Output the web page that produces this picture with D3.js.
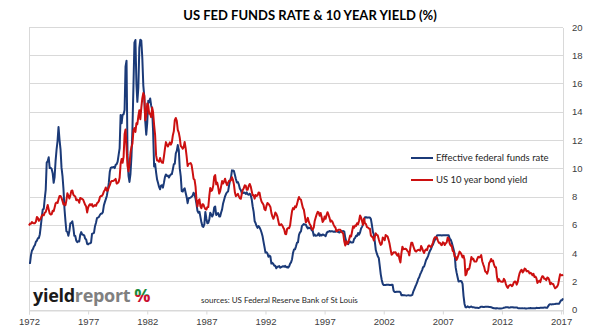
<!DOCTYPE html>
<meta charset="utf-8">
<style>
body { margin: 0; background: #fff; }
svg { display: block; font-family: Lato, "Open Sans", sans-serif; }
.grid line { stroke: #d9d9d9; shape-rendering: crispEdges; }
.axis text { fill: #404040; font-size: 9.5px; }
.series { fill: none; stroke-width: 2; stroke-linejoin: round; }
</style>
<body>
<svg width="602" height="330"></svg>
<script src="https://cdn.jsdelivr.net/npm/d3@7"></script>
<script>

// Monthly averages, Jan 1972 - Mar 2017 (%)
var fedFundsRate = [
  3.29, 3.29, 3.83, 4.17, 4.27, 4.46, 4.55, 4.80, 4.87, 5.04, 5.06, 5.33,
  5.94, 6.58, 7.09, 7.12, 7.84, 8.49, 10.40, 10.50, 10.78, 10.01, 10.03, 9.95,
  9.65, 8.97, 9.35, 10.51, 11.31, 11.93, 12.92, 12.01, 11.34, 10.06, 9.45, 8.53,
  7.13, 6.24, 5.54, 5.49, 5.22, 5.55, 6.10, 6.14, 6.24, 5.82, 5.22, 5.20,
  4.87, 4.77, 4.84, 4.82, 5.29, 5.48, 5.31, 5.29, 5.25, 5.02, 4.95, 4.65,
  4.61, 4.68, 4.69, 4.73, 5.35, 5.39, 5.42, 5.90, 6.14, 6.47, 6.51, 6.56,
  6.70, 6.78, 6.79, 6.89, 7.36, 7.60, 7.81, 8.04, 8.45, 8.96, 9.76, 10.03,
  10.07, 10.06, 10.09, 10.01, 10.24, 10.29, 10.47, 10.94, 11.43, 13.77, 13.18, 13.78,
  13.82, 14.13, 17.19, 17.61, 10.98, 9.47, 9.03, 9.61, 10.87, 12.81, 15.85, 18.90,
  19.08, 15.93, 14.70, 15.72, 18.52, 19.10, 19.04, 17.82, 15.87, 15.08, 13.31, 12.37,
  13.22, 14.78, 14.68, 14.94, 14.45, 14.15, 12.59, 10.12, 10.31, 9.71, 9.20, 8.95,
  8.68, 8.51, 8.77, 8.80, 8.63, 8.98, 9.37, 9.56, 9.45, 9.48, 9.34, 9.47,
  9.56, 9.59, 9.91, 10.29, 10.32, 11.06, 11.23, 11.64, 11.30, 9.99, 9.43, 8.38,
  8.35, 8.50, 8.58, 8.27, 7.97, 7.53, 7.88, 7.90, 7.92, 7.99, 8.05, 8.27,
  8.14, 7.86, 7.48, 6.99, 6.85, 6.92, 6.56, 6.17, 5.89, 5.85, 6.04, 6.91,
  6.43, 6.10, 6.13, 6.37, 6.85, 6.73, 6.58, 6.73, 7.22, 7.29, 6.69, 6.77,
  6.83, 6.58, 6.58, 6.87, 7.09, 7.51, 7.75, 8.01, 8.19, 8.30, 8.35, 8.76,
  9.12, 9.36, 9.85, 9.84, 9.81, 9.53, 9.24, 8.99, 9.02, 8.84, 8.55, 8.45,
  8.23, 8.24, 8.28, 8.26, 8.18, 8.29, 8.15, 8.13, 8.20, 8.11, 7.81, 7.31,
  6.91, 6.25, 6.12, 5.91, 5.78, 5.90, 5.82, 5.66, 5.45, 5.21, 4.81, 4.43,
  4.03, 4.06, 3.98, 3.73, 3.82, 3.76, 3.25, 3.30, 3.22, 3.10, 3.09, 2.92,
  3.02, 3.03, 3.07, 2.96, 3.00, 3.04, 3.06, 3.03, 3.09, 2.99, 3.02, 2.96,
  3.05, 3.25, 3.34, 3.56, 4.01, 4.25, 4.26, 4.47, 4.73, 4.76, 5.29, 5.45,
  5.53, 5.92, 5.98, 6.05, 6.01, 6.00, 5.85, 5.74, 5.80, 5.76, 5.80, 5.60,
  5.56, 5.22, 5.31, 5.22, 5.24, 5.27, 5.40, 5.22, 5.30, 5.24, 5.31, 5.29,
  5.25, 5.19, 5.39, 5.51, 5.50, 5.56, 5.52, 5.54, 5.54, 5.50, 5.52, 5.50,
  5.56, 5.51, 5.49, 5.45, 5.49, 5.56, 5.54, 5.55, 5.51, 5.07, 4.83, 4.68,
  4.63, 4.76, 4.81, 4.74, 4.74, 4.76, 4.99, 5.07, 5.22, 5.20, 5.42, 5.30,
  5.45, 5.73, 5.85, 6.02, 6.27, 6.53, 6.54, 6.50, 6.52, 6.51, 6.51, 6.40,
  5.98, 5.49, 5.31, 4.80, 4.21, 3.97, 3.77, 3.65, 3.07, 2.49, 2.09, 1.82,
  1.73, 1.74, 1.73, 1.75, 1.75, 1.75, 1.73, 1.74, 1.75, 1.75, 1.34, 1.24,
  1.24, 1.26, 1.25, 1.26, 1.26, 1.22, 1.01, 1.03, 1.01, 1.01, 1.00, 0.98,
  1.00, 1.01, 1.00, 1.00, 1.00, 1.03, 1.26, 1.43, 1.61, 1.76, 1.93, 2.16,
  2.28, 2.50, 2.63, 2.79, 3.00, 3.04, 3.26, 3.50, 3.62, 3.78, 4.00, 4.16,
  4.29, 4.49, 4.59, 4.79, 4.94, 4.99, 5.24, 5.25, 5.25, 5.25, 5.25, 5.24,
  5.25, 5.26, 5.26, 5.25, 5.25, 5.25, 5.26, 5.02, 4.94, 4.76, 4.49, 4.24,
  3.94, 2.98, 2.61, 2.28, 1.98, 2.00, 2.01, 2.00, 1.81, 0.97, 0.39, 0.16,
  0.15, 0.22, 0.18, 0.15, 0.18, 0.21, 0.16, 0.16, 0.15, 0.12, 0.12, 0.12,
  0.11, 0.13, 0.16, 0.20, 0.20, 0.18, 0.18, 0.19, 0.19, 0.19, 0.19, 0.18,
  0.17, 0.16, 0.14, 0.10, 0.09, 0.09, 0.07, 0.10, 0.08, 0.07, 0.08, 0.07,
  0.08, 0.10, 0.13, 0.14, 0.16, 0.16, 0.16, 0.13, 0.14, 0.16, 0.16, 0.16,
  0.14, 0.15, 0.14, 0.15, 0.11, 0.09, 0.09, 0.08, 0.08, 0.09, 0.08, 0.09,
  0.07, 0.07, 0.08, 0.09, 0.09, 0.10, 0.09, 0.09, 0.09, 0.09, 0.09, 0.12,
  0.11, 0.11, 0.11, 0.12, 0.12, 0.13, 0.13, 0.14, 0.14, 0.12, 0.12, 0.24,
  0.34, 0.38, 0.36, 0.37, 0.37, 0.38, 0.39, 0.40, 0.40, 0.40, 0.41, 0.54,
  0.65, 0.66, 0.79
];

var tenYearYield = [
  5.95, 6.08, 6.07, 6.19, 6.13, 6.11, 6.11, 6.21, 6.55, 6.48, 6.28, 6.36,
  6.46, 6.64, 6.71, 6.67, 6.85, 6.90, 7.13, 7.40, 7.09, 6.79, 6.73, 6.74,
  6.99, 6.96, 7.21, 7.51, 7.58, 7.54, 7.81, 8.04, 8.04, 7.90, 7.68, 7.43,
  7.50, 7.39, 7.73, 8.23, 8.06, 7.86, 8.06, 8.40, 8.43, 8.14, 8.05, 8.00,
  7.74, 7.79, 7.73, 7.56, 7.90, 7.86, 7.83, 7.77, 7.59, 7.41, 7.29, 6.87,
  7.21, 7.39, 7.46, 7.37, 7.46, 7.28, 7.33, 7.40, 7.34, 7.52, 7.58, 7.69,
  7.96, 8.03, 8.04, 8.15, 8.35, 8.46, 8.64, 8.41, 8.42, 8.64, 8.81, 9.01,
  9.10, 9.10, 9.12, 9.18, 9.25, 8.91, 8.95, 9.03, 9.33, 10.30, 10.65, 10.39,
  10.80, 12.41, 12.75, 11.47, 10.18, 9.78, 10.25, 11.10, 11.51, 11.75, 12.68, 12.84,
  12.57, 13.19, 13.12, 13.68, 14.10, 13.47, 14.28, 14.94, 15.32, 15.15, 13.39, 13.72,
  14.59, 14.43, 13.86, 13.87, 13.62, 14.30, 13.95, 13.06, 12.34, 10.91, 10.55, 10.54,
  10.46, 10.72, 10.51, 10.40, 10.38, 10.85, 11.38, 11.85, 11.65, 11.54, 11.69, 11.83,
  11.67, 11.84, 12.32, 12.63, 13.41, 13.56, 13.36, 12.72, 12.52, 12.16, 11.57, 11.50,
  11.38, 11.51, 11.86, 11.43, 10.85, 10.16, 10.31, 10.33, 10.37, 10.24, 9.78, 9.26,
  9.19, 8.70, 7.78, 7.30, 7.71, 7.80, 7.30, 7.17, 7.45, 7.43, 7.25, 7.11,
  7.08, 7.25, 7.25, 8.02, 8.61, 8.40, 8.45, 8.76, 9.42, 9.52, 8.86, 8.99,
  8.67, 8.21, 8.37, 8.72, 9.09, 8.92, 9.06, 9.26, 8.98, 8.80, 8.96, 9.11,
  9.09, 9.17, 9.36, 9.18, 8.86, 8.28, 8.02, 8.11, 8.19, 8.01, 7.87, 7.84,
  8.21, 8.47, 8.59, 8.79, 8.76, 8.48, 8.47, 8.75, 8.89, 8.72, 8.39, 8.08,
  8.09, 7.85, 8.11, 8.04, 8.07, 8.28, 8.27, 7.90, 7.65, 7.53, 7.42, 7.09,
  7.03, 7.34, 7.54, 7.48, 7.39, 7.26, 6.84, 6.59, 6.42, 6.59, 6.87, 6.77,
  6.60, 6.26, 5.98, 5.97, 6.04, 5.96, 5.81, 5.68, 5.36, 5.33, 5.72, 5.77,
  5.75, 5.97, 6.48, 6.97, 7.18, 7.10, 7.30, 7.24, 7.46, 7.74, 7.96, 7.81,
  7.78, 7.47, 7.20, 7.06, 6.63, 6.17, 6.28, 6.49, 6.20, 6.04, 5.93, 5.71,
  5.65, 5.81, 6.27, 6.51, 6.74, 6.91, 6.87, 6.64, 6.83, 6.53, 6.20, 6.30,
  6.58, 6.42, 6.69, 6.89, 6.71, 6.49, 6.22, 6.30, 6.21, 6.03, 5.88, 5.81,
  5.54, 5.57, 5.65, 5.64, 5.65, 5.50, 5.46, 5.34, 4.81, 4.53, 4.83, 4.65,
  4.72, 5.00, 5.23, 5.18, 5.54, 5.90, 5.79, 5.94, 5.92, 6.11, 6.03, 6.28,
  6.66, 6.52, 6.26, 5.99, 6.44, 6.10, 6.05, 5.83, 5.80, 5.74, 5.72, 5.24,
  5.16, 5.10, 4.89, 5.14, 5.39, 5.28, 5.24, 4.97, 4.73, 4.57, 4.65, 5.09,
  5.04, 4.91, 5.28, 5.21, 5.16, 4.93, 4.65, 4.26, 3.87, 3.94, 4.05, 4.03,
  4.05, 3.90, 3.81, 3.96, 3.57, 3.33, 3.98, 4.45, 4.27, 4.29, 4.30, 4.27,
  4.15, 4.08, 3.83, 4.35, 4.72, 4.73, 4.50, 4.28, 4.13, 4.10, 4.19, 4.23,
  4.22, 4.17, 4.50, 4.34, 4.14, 4.00, 4.18, 4.26, 4.20, 4.46, 4.54, 4.47,
  4.42, 4.57, 4.72, 4.99, 5.11, 5.11, 5.09, 4.88, 4.72, 4.73, 4.60, 4.56,
  4.76, 4.72, 4.56, 4.69, 4.75, 5.10, 5.00, 4.67, 4.52, 4.53, 4.15, 4.10,
  3.74, 3.74, 3.51, 3.68, 3.88, 4.10, 4.01, 3.89, 3.69, 3.81, 3.53, 2.42,
  2.52, 2.87, 2.82, 2.93, 3.29, 3.72, 3.56, 3.59, 3.40, 3.39, 3.40, 3.59,
  3.73, 3.69, 3.73, 3.85, 3.42, 3.20, 3.01, 2.70, 2.65, 2.54, 2.76, 3.29,
  3.39, 3.58, 3.41, 3.46, 3.17, 3.00, 3.00, 2.30, 1.98, 2.15, 2.01, 1.98,
  1.97, 1.97, 2.17, 2.05, 1.80, 1.62, 1.53, 1.68, 1.72, 1.75, 1.65, 1.72,
  1.91, 1.98, 1.96, 1.76, 1.93, 2.30, 2.58, 2.74, 2.81, 2.62, 2.72, 2.90,
  2.86, 2.71, 2.72, 2.71, 2.56, 2.60, 2.54, 2.42, 2.53, 2.30, 2.33, 2.21,
  1.88, 1.98, 2.04, 1.94, 2.20, 2.36, 2.32, 2.17, 2.17, 2.07, 2.26, 2.24,
  2.09, 1.78, 1.89, 1.81, 1.81, 1.64, 1.50, 1.56, 1.63, 1.76, 2.14, 2.49,
  2.43, 2.42, 2.48
];

var tickYears = [1972, 1977, 1982, 1987, 1992, 1997, 2002, 2007, 2012, 2017];
var yTicks = [0, 2, 4, 6, 8, 10, 12, 14, 16, 18, 20];
var seriesNames = ["Effective federal funds rate", "US 10 year bond yield"];
var seriesColors = ["#1b3a78", "#cc1010"];

var svg = d3.select("svg"),
    plot = {left: 29, right: 563, top: 27, bottom: 309.5};

var month = function(i) { return new Date(1972, i, 1); };

var x = d3.scaleTime()
    .domain([month(0), month(fedFundsRate.length - 1)])
    .range([plot.left, plot.right]);

var y = d3.scaleLinear().domain([0, 20]).range([plot.bottom, plot.top]);

// Horizontal gridlines
svg.append("g")
    .attr("class", "grid")
  .selectAll("line")
  .data(yTicks)
  .enter().append("line")
    .attr("x1", plot.left)
    .attr("x2", plot.right)
    .attr("y1", function(d) { return Math.round(y(d)) + 0.5; })
    .attr("y2", function(d) { return Math.round(y(d)) + 0.5; });

// Side borders of the plot area
svg.append("g")
    .attr("class", "grid")
  .selectAll("line")
  .data([plot.left, plot.right])
  .enter().append("line")
    .attr("x1", function(d) { return Math.round(d) + 0.5; })
    .attr("x2", function(d) { return Math.round(d) + 0.5; })
    .attr("y1", Math.round(y(20)) + 0.5)
    .attr("y2", Math.round(y(0)) + 0.5);

// Bottom axis with year labels
var xAxis = svg.append("g")
    .attr("class", "axis")
    .attr("transform", "translate(0," + (Math.round(y(0)) + 0.5) + ")")
    .call(d3.axisBottom(x)
      .tickValues(tickYears.map(function(yr) { return new Date(yr, 0, 1); }))
      .tickFormat(d3.timeFormat("%Y"))
      .tickSize(4)
      .tickPadding(4));
xAxis.select(".domain").attr("stroke", "#d9d9d9");
xAxis.selectAll(".tick line").attr("stroke", "#d9d9d9");

// Right-hand value axis
var yAxis = svg.append("g")
    .attr("class", "axis")
    .attr("transform", "translate(" + (plot.right + 9) + ",0)")
    .call(d3.axisRight(y).tickValues(yTicks).tickSize(0).tickPadding(0));
yAxis.select(".domain").remove();

// The two series
var line = d3.line()
    .x(function(d, i) { return x(month(i)); })
    .y(function(d) { return y(d); });

[fedFundsRate, tenYearYield].forEach(function(values, k) {
  svg.append("path")
      .datum(values)
      .attr("class", "series")
      .attr("stroke", seriesColors[k])
      .attr("d", line);
});

// Title
svg.append("text")
    .attr("x", 310)
    .attr("y", 20)
    .attr("text-anchor", "middle")
    .style("font-size", "13px")
    .style("font-weight", "bold")
    .style("fill", "#000")
    .text("US FED FUNDS RATE & 10 YEAR YIELD (%)");

// Legend
var legend = svg.append("g").attr("transform", "translate(411,158)");
seriesNames.forEach(function(name, k) {
  var row = legend.append("g").attr("transform", "translate(0," + (k * 22) + ")");
  row.append("line")
      .attr("x2", 22)
      .attr("stroke", seriesColors[k])
      .attr("stroke-width", 2);
  row.append("text")
      .attr("x", 25)
      .attr("dy", "0.35em")
      .style("font-size", "9.5px")
      .style("fill", "#262626")
      .text(name);
});

// Logo
var pct = svg.append("defs").append("linearGradient")
    .attr("id", "pct")
    .attr("x1", 0).attr("y1", 0).attr("x2", 0).attr("y2", 1);
pct.append("stop").attr("offset", "52%").attr("stop-color", "#1e8a3a");
pct.append("stop").attr("offset", "52%").attr("stop-color", "#c8102e");

var logo = svg.append("text")
    .attr("x", 33)
    .attr("y", 302)
    .style("font-family", "'Open Sans', sans-serif")
    .style("font-size", "18px")
    .style("font-weight", "bold")
    .style("letter-spacing", "-0.3px");
logo.append("tspan").style("fill", "#1a1a1a").text("yield");
logo.append("tspan").style("fill", "#808080").text("report");
logo.append("tspan").attr("dx", 4).style("fill", "url(#pct)").text("%");

svg.append("text")
    .attr("x", 201)
    .attr("y", 303)
    .style("font-size", "8px")
    .style("fill", "#262626")
    .text("sources: US Federal Reserve Bank of St Louis");

</script>
</body>
